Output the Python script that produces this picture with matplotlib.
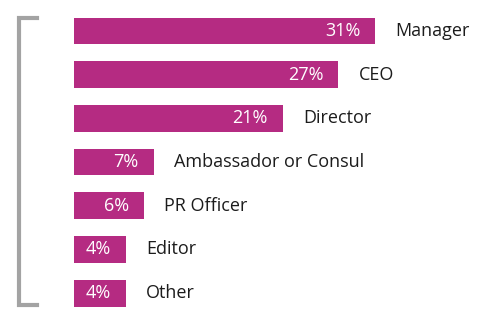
import matplotlib.pyplot as plt
from matplotlib.lines import Line2D

# ----------------------------------------------------------------------
#   Data
# ----------------------------------------------------------------------
roles  = ['Manager', 'CEO', 'Director', 'Ambassador or Consul', 'PR Officer', 'Editor', 'Other']
shares = [31, 27, 21, 7, 6, 4, 4]   # [%]

bar_color  = '#b52b82'
text_color = '#1c1c1c'
plt.rcParams['font.family'] = ['Open Sans', 'DejaVu Sans']

# ----------------------------------------------------------------------
#   Plot
# ----------------------------------------------------------------------
fig = plt.figure(figsize=(5.0, 3.24), dpi=100)
ax = fig.add_axes([0, 0, 1, 1])

px_per_pct = 9.24   # horizontal scale
stub       = 1.67   # bars start a little left of zero, as in the original layout

ypos = list(range(len(roles)))
bars = ax.barh(ypos, [v + stub for v in shares], height=0.61, left=-stub, color=bar_color)

for y, v in zip(ypos, shares):
    ax.annotate(f'{v}%', xy=(v, y), xytext=(-15, 0), textcoords='offset pixels',
                ha='right', va='center', color='white', fontsize=13)
    ax.annotate(roles[y], xy=(v, y), xytext=(20, 0), textcoords='offset pixels',
                ha='left', va='center', color=text_color, fontsize=13)

x0 = -stub - 73.5 / px_per_pct
ax.set_xlim(x0, x0 + 500 / px_per_pct)
ax.set_ylim((324 - 31) / 43.7, -31 / 43.7)
ax.axis('off')

# grey bracket on the left
bx0, bx1 = 18.5 / 500, 37 / 500
by0, by1 = 1 - 304.5 / 324, 1 - 17.5 / 324
fig.add_artist(Line2D([bx1, bx0, bx0, bx1], [by1, by1, by0, by0],
                      transform=fig.transFigure, color='#a3a3a3', lw=3.0,
                      solid_joinstyle='miter'))

fig.savefig('out.png', dpi=100)
